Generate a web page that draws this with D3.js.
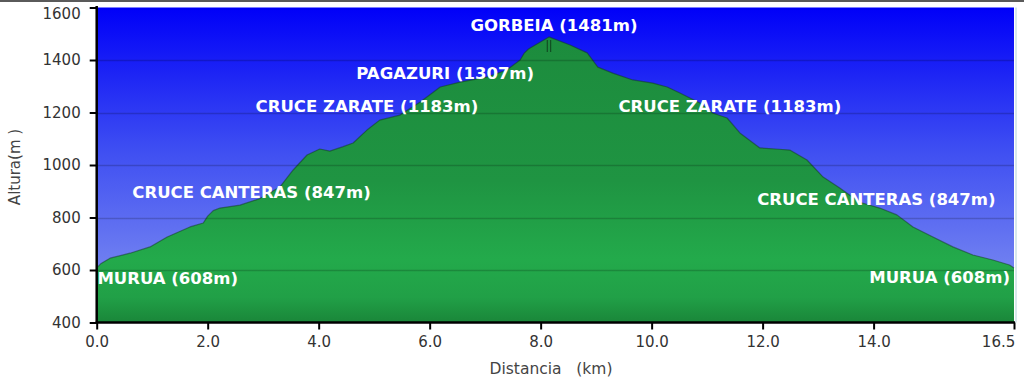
<!DOCTYPE html>
<html><head><meta charset="utf-8">
<script src="https://cdn.jsdelivr.net/npm/d3@7"></script>
<style>
html,body{margin:0;padding:0;background:#fff;}
svg{display:block;}
</style></head>
<body>
<svg id="c" width="1024" height="378"></svg>
<script>
// Elevation profile (distance km, elevation m)
const distKm = [0.00,0.08,0.24,0.60,0.96,1.27,1.68,1.92,2.00,2.10,2.22,2.58,2.94,3.30,3.54,3.79,4.02,4.20,4.44,4.62,4.87,5.10,5.46,5.83,6.19,6.55,7.03,7.39,7.63,7.70,7.78,8.15,8.53,8.84,9.03,9.30,9.66,10.02,10.28,10.51,10.87,11.10,11.36,11.59,11.95,12.30,12.49,12.80,13.09,13.39,13.75,14.11,14.42,14.71,15.07,15.43,15.79,16.15,16.45,16.53];
const elevM  = [608,625,645,664,688,726,764,779,805,826,836,847,872,916,981,1038,1061,1053,1070,1084,1133,1171,1190,1240,1297,1316,1335,1362,1400,1425,1442,1488,1457,1427,1373,1350,1324,1312,1297,1274,1236,1198,1179,1122,1065,1060,1057,1019,954,912,858,836,810,764,726,688,657,638,619,608];

const yTicks = [400,600,800,1000,1200,1400,1600];
const xTicks = [0,2,4,6,8,10,12,14,16.53];

// Waypoint annotations
const wpNames = ["MURUA (608m)","CRUCE CANTERAS (847m)","CRUCE ZARATE (1183m)","PAGAZURI (1307m)","GORBEIA (1481m)","CRUCE ZARATE (1183m)","CRUCE CANTERAS (847m)","MURUA (608m)"];
const wpLabelKm = [1.28,2.79,4.87,6.28,8.24,11.41,14.05,15.19];
const wpLabelM  = [566,894,1221,1350,1533,1221,867,570];

const xTitle = "Distancia   (km)";
const yTitle = "Altura(m )";

const W=1024,H=378;
const plot = {l:96.7, r:1014, t:7.5, b:322.5};
const svg = d3.select("#c");

const x = d3.scaleLinear().domain([0,16.53]).range([plot.l,plot.r]);
const y = d3.scaleLinear().domain([400,1600]).range([plot.b,plot.t]);

const defs = svg.append("defs");
const sky = defs.append("linearGradient").attr("id","sky")
  .attr("gradientUnits","userSpaceOnUse").attr("x1",0).attr("x2",0).attr("y1",plot.t).attr("y2",plot.b);
sky.append("stop").attr("offset","0").attr("stop-color","#0000f8");
sky.append("stop").attr("offset","0.45").attr("stop-color","#3e4ef2");
sky.append("stop").attr("offset","1").attr("stop-color","#8898f0");

const grn = defs.append("linearGradient").attr("id","grn")
  .attr("gradientUnits","userSpaceOnUse").attr("x1",0).attr("x2",0).attr("y1",plot.t).attr("y2",plot.b);
grn.append("stop").attr("offset","0").attr("stop-color","#1c8a3c");
grn.append("stop").attr("offset","0.55").attr("stop-color","#1f9442");
grn.append("stop").attr("offset","0.8").attr("stop-color","#23aa4b");
grn.append("stop").attr("offset","0.92").attr("stop-color","#21a047");
grn.append("stop").attr("offset","1").attr("stop-color","#1a8639");

// top border
svg.append("rect").attr("x",0).attr("y",0).attr("width",W).attr("height",2).attr("fill","#5a5a5a");

// sky background
svg.append("rect").attr("x",plot.l).attr("y",plot.t).attr("width",plot.r-plot.l).attr("height",plot.b-plot.t).attr("fill","url(#sky)");

const pts = distKm.map((d,i)=>[d,elevM[i]]);
const area = d3.area().x(d=>x(d[0])).y0(y(400)).y1(d=>y(d[1])).curve(d3.curveLinear);
svg.append("path").datum(pts).attr("d",area).attr("fill","url(#grn)");
const line = d3.line().x(d=>x(d[0])).y(d=>y(d[1])).curve(d3.curveLinear);
svg.append("path").datum(pts).attr("d",line).attr("fill","none").attr("stroke","#103a1c").attr("stroke-opacity",0.5).attr("stroke-width",1.2).attr("stroke-linejoin","round");

// gridlines
svg.append("g").selectAll("line").data(yTicks.filter(v=>v>400&&v<1600)).join("line")
  .attr("x1",plot.l).attr("x2",plot.r).attr("y1",d=>Math.round(y(d))+0.5).attr("y2",d=>Math.round(y(d))+0.5)
  .attr("stroke","#000").attr("stroke-opacity",0.18).attr("stroke-width",1.5);

// peak marker
const peakI = elevM.indexOf(d3.max(elevM));
[-0.03,0.03].forEach(o=>{
  svg.append("line").attr("x1",x(distKm[peakI]+o)).attr("x2",x(distKm[peakI]+o))
    .attr("y1",y(elevM[peakI])+3).attr("y2",y(elevM[peakI])+15)
    .attr("stroke","#0d3318").attr("stroke-opacity",0.7).attr("stroke-width",1.2);
});

// right edge line
svg.append("line").attr("x1",plot.r+2).attr("x2",plot.r+2).attr("y1",plot.t).attr("y2",plot.b).attr("stroke","#d8e8ec").attr("stroke-width",2);

// labels
svg.append("g").selectAll("text").data(wpNames).join("text")
  .attr("x",(d,i)=>x(wpLabelKm[i])).attr("y",(d,i)=>y(wpLabelM[i]))
  .attr("text-anchor","middle").attr("dominant-baseline","central")
  .attr("fill","#fff").attr("font-family","'DejaVu Sans', Verdana, sans-serif")
  .attr("font-weight","bold").attr("font-size","16.5px").text(d=>d);

// axes
const axisFont = "'DejaVu Sans', Verdana, sans-serif";
const yAxis = svg.append("g").attr("transform",`translate(${plot.l},0)`)
  .call(d3.axisLeft(y).tickValues(yTicks).tickSize(7).tickPadding(9).tickFormat(d3.format("d")));
const xAxis = svg.append("g").attr("transform",`translate(0,${plot.b})`)
  .call(d3.axisBottom(x).tickValues(xTicks).tickSize(7).tickPadding(7).tickFormat(d=>d.toFixed(1)));
[yAxis,xAxis].forEach(g=>{
  g.select(".domain").attr("stroke","#000").attr("stroke-width",2.5);
  g.selectAll(".tick line").attr("stroke","#000").attr("stroke-width",2);
  g.selectAll(".tick text").attr("fill","#333").attr("font-family",axisFont).attr("font-size","15px");
});
yAxis.select(".domain").attr("d",`M0,${plot.t-1.5}V${plot.b+1}`);
xAxis.select(".domain").attr("d",`M${plot.l-1},0H${plot.r+1}`);
yAxis.selectAll(".tick").filter(d=>d===1600).select("text").attr("dy","0.72em");
xAxis.selectAll(".tick text").filter(d=>d>16).attr("text-anchor","end").attr("dx","0.05em");

// titles
svg.append("text").attr("x",551).attr("y",369).attr("text-anchor","middle").attr("dominant-baseline","central")
  .attr("fill","#444").attr("font-family",axisFont).attr("font-size","15.5px").attr("xml:space","preserve").style("white-space","pre").text(xTitle);
svg.append("text").attr("transform","translate(15,167) rotate(-90)").attr("text-anchor","middle").attr("dominant-baseline","central")
  .attr("fill","#444").attr("font-family",axisFont).attr("font-size","15px").attr("xml:space","preserve").style("white-space","pre").text(yTitle);
</script>
</body></html>
